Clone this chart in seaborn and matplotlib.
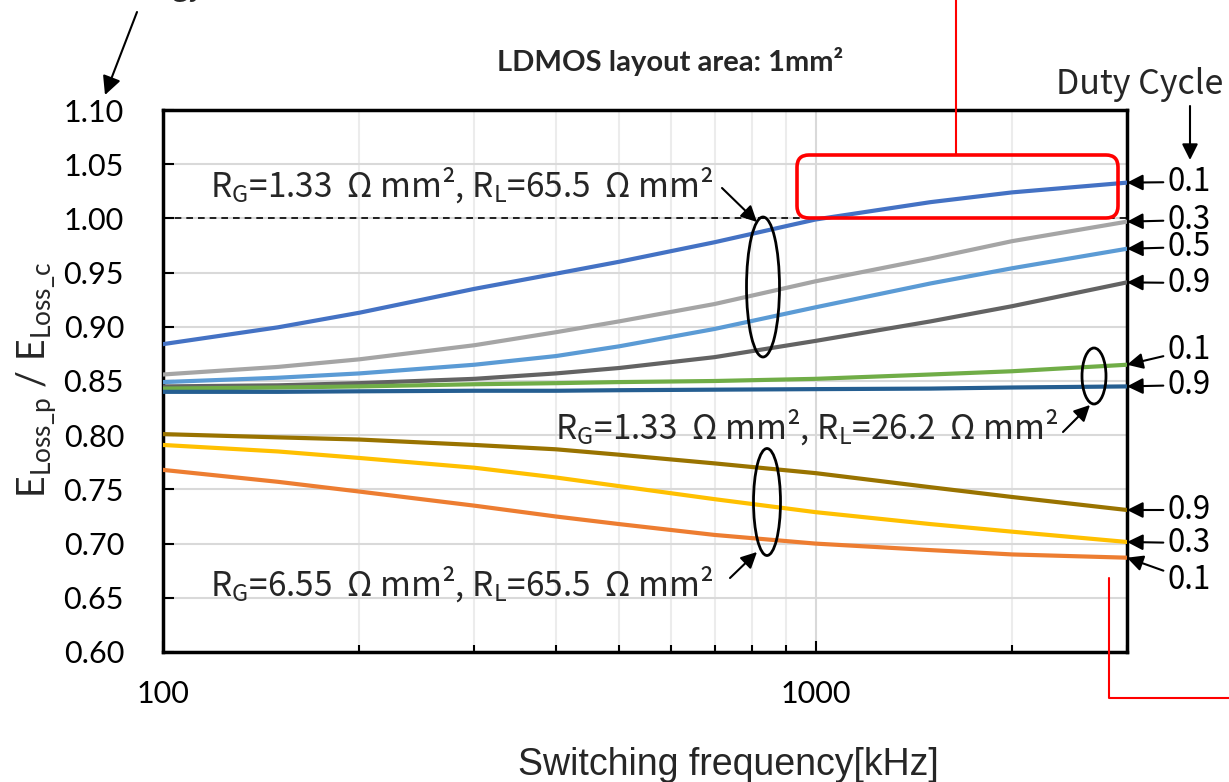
import matplotlib
matplotlib.use("Agg")
import matplotlib.pyplot as plt
import matplotlib.ticker as mticker
import numpy as np
import pandas as pd
import seaborn as sns
from matplotlib.patches import Ellipse, FancyBboxPatch, FancyArrowPatch
from matplotlib.lines import Line2D

# ---- data -------------------------------------------------------------
freq_khz = [100, 150, 200, 300, 400, 500, 700, 1000, 1500, 2000, 3000]

# RG = 1.33 Ohm mm2, RL = 65.5 Ohm mm2
rg133_rl655_d01 = [0.884, 0.8995, 0.913, 0.935, 0.949, 0.960, 0.978, 0.999, 1.015, 1.024, 1.033]
rg133_rl655_d03 = [0.856, 0.863, 0.870, 0.883, 0.895, 0.905, 0.921, 0.942, 0.963, 0.979, 0.997]
rg133_rl655_d05 = [0.849, 0.853, 0.857, 0.865, 0.873, 0.882, 0.898, 0.918, 0.940, 0.954, 0.972]
rg133_rl655_d09 = [0.845, 0.846, 0.848, 0.852, 0.857, 0.862, 0.872, 0.887, 0.905, 0.919, 0.941]
# RG = 1.33 Ohm mm2, RL = 26.2 Ohm mm2
rg133_rl262_d01 = [0.843, 0.844, 0.845, 0.847, 0.848, 0.849, 0.850, 0.852, 0.856, 0.859, 0.865]
rg133_rl262_d09 = [0.840, 0.840, 0.8405, 0.841, 0.841, 0.8415, 0.842, 0.8425, 0.843, 0.844, 0.845]
# RG = 6.55 Ohm mm2, RL = 65.5 Ohm mm2
rg655_rl655_d09 = [0.801, 0.798, 0.796, 0.791, 0.787, 0.782, 0.774, 0.765, 0.752, 0.743, 0.731]
rg655_rl655_d03 = [0.791, 0.785, 0.779, 0.770, 0.761, 0.753, 0.741, 0.729, 0.718, 0.711, 0.7015]
rg655_rl655_d01 = [0.768, 0.757, 0.748, 0.735, 0.725, 0.718, 0.708, 0.700, 0.694, 0.690, 0.687]

series = [
    ("rg133_rl655_d01", rg133_rl655_d01, "#4472C4", "0.1"),
    ("rg133_rl655_d03", rg133_rl655_d03, "#A5A5A5", "0.3"),
    ("rg133_rl655_d05", rg133_rl655_d05, "#5B9BD5", "0.5"),
    ("rg133_rl655_d09", rg133_rl655_d09, "#636363", "0.9"),
    ("rg133_rl262_d01", rg133_rl262_d01, "#70AD47", "0.1"),
    ("rg133_rl262_d09", rg133_rl262_d09, "#255E91", "0.9"),
    ("rg655_rl655_d09", rg655_rl655_d09, "#997300", "0.9"),
    ("rg655_rl655_d03", rg655_rl655_d03, "#FFC000", "0.3"),
    ("rg655_rl655_d01", rg655_rl655_d01, "#ED7D31", "0.1"),
]

# vertical placement of the duty-cycle tags at the right edge (data units)
tag_y = [1.0336, 0.9985, 0.9736, 0.9404, 0.8786, 0.8463, 0.731, 0.7005, 0.6664]

df = pd.DataFrame(
    [(name, f, v) for name, vals, _, _ in series for f, v in zip(freq_khz, vals)],
    columns=["series", "freq", "ratio"],
)
palette = {name: col for name, _, col, _ in series}

# ---- figure -----------------------------------------------------------
sns.set_theme(style="white")
plt.rcParams["font.family"] = ["Lato", "DejaVu Sans"]

W, H, DPI = 1229, 782, 100
fig = plt.figure(figsize=(W / DPI, H / DPI), dpi=DPI)
ax = fig.add_axes([163 / W, 1 - 652 / H, 964 / W, 542 / H])

sns.lineplot(data=df, x="freq", y="ratio", hue="series", palette=palette,
             hue_order=[s[0] for s in series], linewidth=3, legend=False,
             ax=ax, zorder=3)

ax.set_xscale("log")
ax.set_xlim(100, 3000)
ax.set_ylim(0.60, 1.10)
ax.yaxis.set_major_locator(mticker.MultipleLocator(0.05))
ax.yaxis.set_major_formatter(mticker.FormatStrFormatter("%.2f"))
ax.xaxis.set_major_locator(mticker.FixedLocator([100, 1000]))
ax.xaxis.set_major_formatter(mticker.FuncFormatter(lambda v, p: f"{int(v)}"))
ax.xaxis.set_minor_locator(mticker.LogLocator(base=10, subs=np.arange(2, 10)))
ax.xaxis.set_minor_formatter(mticker.NullFormatter())
ax.set_xlabel("")
ax.set_ylabel("")

ax.set_axisbelow(True)
ax.grid(which="major", axis="y", color="#d9d9d9", lw=1.5)
ax.grid(which="major", axis="x", color="#d9d9d9", lw=1.5)
ax.grid(which="minor", axis="x", color="#ececec", lw=1.5)

for sp in ax.spines.values():
    sp.set_color("black")
    sp.set_linewidth(2.5)

ax.tick_params(axis="y", which="major", direction="in", length=8, width=1.5,
               color="black", pad=28, labelsize=22, left=True, right=False)
ax.tick_params(axis="x", which="major", direction="in", length=8, width=1.5,
               color="black", pad=20, labelsize=22, bottom=True, top=False)
ax.tick_params(axis="x", which="minor", direction="in", length=5, width=1.5,
               color="black", bottom=True, top=False)
for lab in ax.get_xticklabels() + ax.get_yticklabels():
    lab.set_color("black")

# reference level
ax.axhline(1.0, color="black", lw=1.2, ls=(0, (4, 3)), zorder=4)

# duty-cycle tags with arrows to the curve ends
jp = ["Noto Sans CJK JP", "DejaVu Sans"]
for (name, vals, col, tag), ty in zip(series, tag_y):
    ax.annotate(tag, xy=(freq_khz[-1], vals[-1]), xycoords="data",
                xytext=(1.0425, ty), textcoords=("axes fraction", "data"),
                ha="left", va="center", fontsize=22.5, family=jp, color="black",
                annotation_clip=False,
                arrowprops=dict(arrowstyle="-|>", mutation_scale=24, color="black",
                                lw=1.5, shrinkA=1, shrinkB=0))

# ---- annotations in pixel space --------------------------------------
def I(x, y):
    return (x / DPI, (H - y) / DPI)

tr = fig.dpi_scale_trans

def arrow(p0, p1, lw=1.5, ms=24):
    fig.add_artist(FancyArrowPatch(I(*p0), I(*p1), transform=tr,
                                   arrowstyle="-|>", mutation_scale=ms,
                                   color="black", lw=lw, shrinkA=0, shrinkB=0))

def ellipse(cx, cy, w, h):
    fig.add_artist(Ellipse(I(cx, cy), w / DPI, h / DPI, transform=tr,
                           fill=False, edgecolor="black", lw=2))

lab1 = r"$\mathregular{R_G}$=1.33  Ω mm², $\mathregular{R_L}$=65.5  Ω mm²"
lab2 = r"$\mathregular{R_G}$=1.33  Ω mm², $\mathregular{R_L}$=26.2  Ω mm²"
lab3 = r"$\mathregular{R_G}$=6.55  Ω mm², $\mathregular{R_L}$=65.5  Ω mm²"

fig.text(210 / W, 1 - 185 / H, lab1, ha="left", va="center", fontsize=24, family=jp)
fig.text(1058 / W, 1 - 427 / H, lab2, ha="right", va="center", fontsize=24, family=jp)
fig.text(210 / W, 1 - 584 / H, lab3, ha="left", va="center", fontsize=24, family=jp)

arrow((722, 188), (757, 222))
arrow((1063, 432), (1090, 405))
arrow((730, 578), (757, 552))

ellipse(763, 287, 33, 140)
ellipse(1094, 376, 24, 56)
ellipse(767, 502, 27, 107)

fig.text(1140 / W, 1 - 85 / H, "Duty Cycle", ha="center", va="center",
         fontsize=24.5, family=jp)
arrow((1190, 106), (1190, 160))

fig.text(670 / W, 1 - 62 / H, "LDMOS layout area: 1mm²", ha="center", va="center",
         fontsize=21, fontweight="bold", family=["Lato", "DejaVu Sans"])

fig.text(728 / W, 1 - 765 / H, "Switching frequency[kHz]", ha="center", va="center",
         fontsize=27, family=["Liberation Sans", "DejaVu Sans"])

fig.text(37 / W, 1 - 380 / H,
         r"$\mathregular{E_{Loss\_p}}$ / $\mathregular{E_{Loss\_c}}$",
         ha="center", va="center", rotation=90, fontsize=27,
         family=["Lato", "DejaVu Sans"])

# pointer from the axis caption above the frame
fig.text(205 / W, 1 + 5 / H, "Energy", ha="right", va="baseline",
         fontsize=22, family=jp)
arrow((137, 12), (105, 95), ms=28)

# highlighted region and leader lines
fig.add_artist(FancyBboxPatch(I(797, 218), 3.21, 0.63, transform=tr,
                              boxstyle="round,pad=0,rounding_size=0.12",
                              fill=False, edgecolor="#ff0000", lw=2.6))
fig.add_artist(Line2D([I(956, 0)[0], I(956, 155)[0]], [I(956, 0)[1], I(956, 155)[1]],
                      transform=tr, color="#ff0000", lw=1.5))
pts = [I(1109, 578), I(1109, 698), I(1229, 698)]
fig.add_artist(Line2D([p[0] for p in pts], [p[1] for p in pts],
                      transform=tr, color="#ff0000", lw=1.5))

fig.savefig("out.png", dpi=DPI)
